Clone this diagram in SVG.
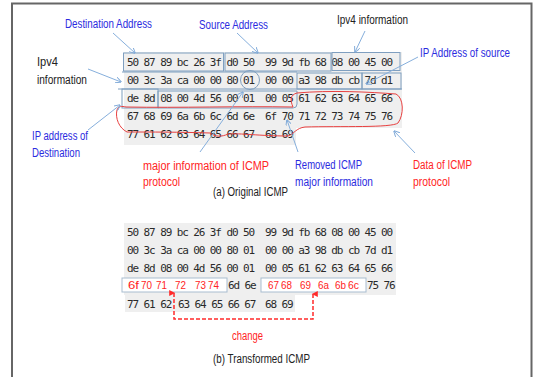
<svg xmlns="http://www.w3.org/2000/svg" width="535" height="377" viewBox="0 0 535 377">
  <defs>
    <marker id="ah" viewBox="0 0 10 10" refX="9" refY="5" markerWidth="6" markerHeight="6" orient="auto-start-reverse" markerUnits="userSpaceOnUse">
      <path d="M0,0 L10,5 L0,10" fill="none" stroke="#7fa9d8" stroke-width="1.6"/>
    </marker>
    <marker id="rh" viewBox="0 0 10 10" refX="5" refY="2" markerWidth="6" markerHeight="7" orient="auto" markerUnits="userSpaceOnUse">
      <path d="M0,10 L5,0 L10,10 Z" fill="#ff2a2a"/>
    </marker>
  </defs>
  <style>
    .hex { font-family: "DejaVu Sans Mono", "Liberation Mono", monospace; font-size: 11px; letter-spacing: -1.1px; fill: #2a2a2a; }
    .lbl { font-family: "Liberation Sans", "Noto Sans", sans-serif; font-size: 12.5px; }
    .blue { fill: #2b2be0; }
    .red { fill: #ff2424; }
    .blk { fill: #222; }
    .rb { font-family: "Liberation Sans", "Noto Sans", sans-serif; font-size: 11.5px; fill: #ff2424; }
    .bg { fill: #efefef; }
    .box { fill: none; stroke: #7f9fc0; stroke-width: 1; }
    .wbox { fill: #ffffff; stroke: #a9bdd0; stroke-width: 1; }
    .arr { fill: none; stroke: #86afdc; stroke-width: 1; marker-end: url(#ah); }
  </style>

  <!-- outer frame -->
  <rect x="12" y="3.5" width="519.5" height="400" fill="#ffffff" stroke="#666" stroke-width="2"/>

  <!-- (a) original dump -->
  <g id="dump-original">
    <rect class="bg" x="124" y="52" width="278" height="76"/>
    <rect class="bg" x="124" y="128" width="172" height="17"/>
    <text class="hex" x="127" y="66" xml:space="preserve">50 87 89 bc 26 3f d0 50  99 9d fb 68 08 00 45 00</text>
    <text class="hex" x="127" y="84" xml:space="preserve">00 3c 3a ca 00 00 80 01  00 00 a3 98 db cb 7d d1</text>
    <text class="hex" x="127" y="102" xml:space="preserve">de 8d 08 00 4d 56 00 01  00 05 61 62 63 64 65 66</text>
    <text class="hex" x="127" y="120" xml:space="preserve">67 68 69 6a 6b 6c 6d 6e  6f 70 71 72 73 74 75 76</text>
    <text class="hex" x="127" y="138" xml:space="preserve">77 61 62 63 64 65 66 67  68 69</text>
  </g>

  <!-- field outlines -->
  <g id="fields">
    <rect id="dst-mac" class="box" x="123.5" y="53" width="100" height="18"/>
    <rect id="src-mac" class="box" x="225" y="53" width="106" height="18"/>
    <rect id="ipv4-head" class="box" x="332" y="52.5" width="68" height="18"/>
    <line class="box" x1="122" y1="72" x2="297" y2="72"/>
    <rect id="ip-src" class="box" x="297" y="73" width="65" height="16"/>
    <rect id="ip-dst-a" class="box" x="362" y="73" width="39" height="16"/>
    <line class="box" x1="118" y1="89" x2="402" y2="89"/>
    <rect id="ip-dst-b" class="box" x="122" y="89" width="36" height="19"/>
    <path id="icmp-head" class="box" d="M158,91 H297 V104 Q297,108 293,108 H158 Z"/>
    <circle id="proto" class="box" cx="250" cy="80" r="9.5"/>
    <path id="icmp-data" fill="none" stroke="#e84040" stroke-width="1" d="M293,107 C290,100 290,95 297,93 C330,90 370,92 396,94 C404,98 404,115 398,123 C392,128 340,126 305,127 C296,128 294,134 288,136 C260,136 240,133 228,134 C222,137 215,137 210,133 C180,132 150,132 127,132 C119,128 115,118 117,110 C118,106 122,106 126,107 C180,108 240,106 293,107 Z"/>
  </g>

  <!-- (b) transformed dump -->
  <g id="dump-transformed">
    <rect class="bg" x="124" y="223" width="272" height="72"/>
    <rect class="bg" x="125" y="295" width="170" height="17"/>
    <text class="hex" x="127" y="236" xml:space="preserve">50 87 89 bc 26 3f d0 50  99 9d fb 68 08 00 45 00</text>
    <text class="hex" x="127" y="254" xml:space="preserve">00 3c 3a ca 00 00 80 01  00 00 a3 98 db cb 7d d1</text>
    <text class="hex" x="127" y="272" xml:space="preserve">de 8d 08 00 4d 56 00 01  00 05 61 62 63 64 65 66</text>
    <rect class="wbox" x="122" y="278" width="105" height="14"/>
    <rect class="wbox" x="261" y="278" width="105" height="14"/>
    <text class="rb" y="289"><tspan x="128" textLength="11" lengthAdjust="spacingAndGlyphs">6f</tspan><tspan x="141" textLength="11" lengthAdjust="spacingAndGlyphs">70</tspan><tspan x="156" textLength="11" lengthAdjust="spacingAndGlyphs">71</tspan><tspan x="175" textLength="11" lengthAdjust="spacingAndGlyphs">72</tspan><tspan x="195" textLength="11" lengthAdjust="spacingAndGlyphs">73</tspan><tspan x="208" textLength="11" lengthAdjust="spacingAndGlyphs">74</tspan></text>
    <text class="hex" x="228" y="289" xml:space="preserve">6d 6e</text>
    <text class="rb" y="289"><tspan x="268" textLength="11" lengthAdjust="spacingAndGlyphs">67</tspan><tspan x="281" textLength="11" lengthAdjust="spacingAndGlyphs">68</tspan><tspan x="300" textLength="11" lengthAdjust="spacingAndGlyphs">69</tspan><tspan x="318" textLength="11" lengthAdjust="spacingAndGlyphs">6a</tspan><tspan x="335" textLength="11" lengthAdjust="spacingAndGlyphs">6b</tspan><tspan x="348" textLength="11" lengthAdjust="spacingAndGlyphs">6c</tspan></text>
    <text class="hex" x="367" y="289" xml:space="preserve">75 76</text>
    <text class="hex" x="127" y="308" xml:space="preserve">77 61 62</text>
    <text class="hex" x="178" y="308" xml:space="preserve">63 64 65 66 67</text>
    <text class="hex" x="265" y="308" xml:space="preserve">68 69</text>
  </g>

  <!-- connectors -->
  <g id="connectors">
    <line class="arr" x1="113" y1="33" x2="135" y2="53"/>
    <line class="arr" x1="237" y1="33" x2="258" y2="53"/>
    <line class="arr" x1="365" y1="31" x2="355" y2="52"/>
    <line class="arr" x1="418" y1="57" x2="366" y2="84"/>
    <line class="arr" x1="88" y1="69" x2="121" y2="82"/>
    <line class="arr" x1="88" y1="130" x2="120" y2="105"/>
    <line class="arr" x1="200" y1="152" x2="243" y2="92"/>
    <line class="arr" x1="298" y1="152" x2="287" y2="120"/>
    <line class="arr" x1="415" y1="153" x2="394" y2="131"/>
    <path id="change-arrow" d="M174,293 V319 H313 V294" fill="none" stroke="#ff2a2a" stroke-width="1.5" stroke-dasharray="4 2" marker-start="url(#rh)" marker-end="url(#rh)"/>
  </g>

  <!-- labels -->
  <g id="labels">
    <text class="lbl blue" x="65" y="28" textLength="87" lengthAdjust="spacingAndGlyphs">Destination Address</text>
    <text class="lbl blue" x="199" y="29" textLength="69" lengthAdjust="spacingAndGlyphs">Source Address</text>
    <text class="lbl blk" x="337" y="24" textLength="71" lengthAdjust="spacingAndGlyphs">Ipv4 information</text>
    <text class="lbl blue" x="420" y="57" textLength="90" lengthAdjust="spacingAndGlyphs">IP Address of source</text>
    <text class="lbl blk" x="37" y="66" textLength="21" lengthAdjust="spacingAndGlyphs">Ipv4</text>
    <text class="lbl blk" x="37" y="84" textLength="50" lengthAdjust="spacingAndGlyphs">information</text>
    <text class="lbl blue" x="32" y="140" textLength="56" lengthAdjust="spacingAndGlyphs">IP address of</text>
    <text class="lbl blue" x="32" y="157" textLength="48" lengthAdjust="spacingAndGlyphs">Destination</text>
    <text class="lbl red" x="143" y="170" textLength="126" lengthAdjust="spacingAndGlyphs">major information of ICMP</text>
    <text class="lbl red" x="143" y="186" textLength="37" lengthAdjust="spacingAndGlyphs">protocol</text>
    <text class="lbl blue" x="295" y="169" textLength="67" lengthAdjust="spacingAndGlyphs">Removed ICMP</text>
    <text class="lbl blue" x="295" y="186" textLength="78" lengthAdjust="spacingAndGlyphs">major information</text>
    <text class="lbl red" x="413" y="169" textLength="59" lengthAdjust="spacingAndGlyphs">Data of ICMP</text>
    <text class="lbl red" x="413" y="186" textLength="37" lengthAdjust="spacingAndGlyphs">protocol</text>
    <text class="lbl blk" x="213" y="196" textLength="75" lengthAdjust="spacingAndGlyphs">(a) Original ICMP</text>
    <text class="lbl red" x="232" y="340" textLength="31" lengthAdjust="spacingAndGlyphs">change</text>
    <text class="lbl blk" x="213" y="363" textLength="97" lengthAdjust="spacingAndGlyphs">(b) Transformed ICMP</text>
  </g>
</svg>
